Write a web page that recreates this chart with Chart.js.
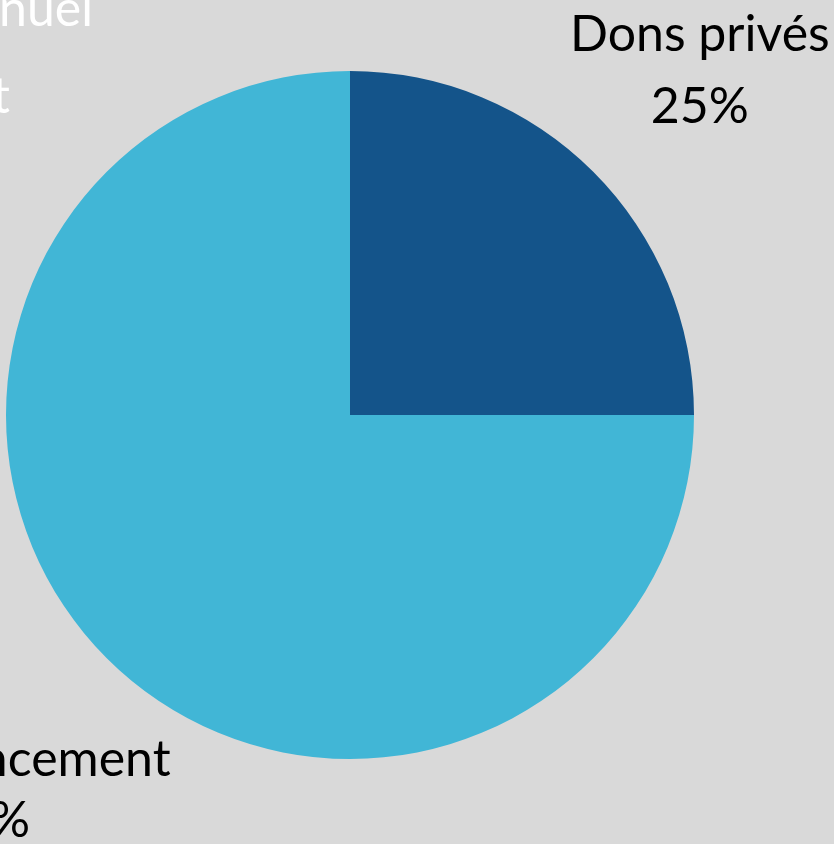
<!DOCTYPE html>
<html>
<head>
<meta charset="utf-8">
<script src="https://cdn.jsdelivr.net/npm/chart.js@4.4.1/dist/chart.umd.min.js"></script>
<style>
  html, body { margin: 0; padding: 0; background: #d9d9d9; }
  #wrap { width: 834px; height: 844px; position: relative; overflow: hidden; }
</style>
</head>
<body>
<div id="wrap"><canvas id="pie"></canvas></div>
<script>
// Data
const categories = ['Dons privés', 'Autofinancement'];
const shares = [25, 75];
const sliceColors = ['#14548a', '#41b6d6'];
const titleLines = ['Budget annuel', 'du projet'];

// draws "name / xx%" next to each slice, anchored on the slice's mid angle
const sliceLabels = {
    id: 'sliceLabels',
    afterDatasetsDraw(chart, args, opts) {
        const ctx = chart.ctx;
        const meta = chart.getDatasetMeta(0);
        ctx.save();
        ctx.font = opts.size + 'px Lato';
        ctx.fillStyle = '#000';
        ctx.textAlign = 'center';
        ctx.textBaseline = 'alphabetic';
        meta.data.forEach((arc, i) => {
            const mid = (arc.startAngle + arc.endAngle) / 2;
            const r = arc.outerRadius * opts.dist;
            const nudge = opts.nudge[i] || [0, 0];
            const gap = opts.gap[i];
            const x = arc.x + Math.cos(mid) * r + nudge[0];
            const y = arc.y + Math.sin(mid) * r + nudge[1];
            ctx.fillText(chart.data.labels[i], x, y - gap / 2);
            ctx.fillText(shares[i] + '%', x, y + gap / 2);
        });
        // title, mostly off the left edge
        ctx.fillStyle = '#ffffff';
        ctx.textAlign = 'right';
        ctx.fillText(titleLines[0], 93, 26);
        ctx.fillText(titleLines[1], 10, 113);
        ctx.restore();
    }
};

new Chart(document.getElementById('pie'), {
    type: 'pie',
    data: {
        labels: categories,
        datasets: [{
            data: shares,
            backgroundColor: sliceColors,
            borderWidth: 0,
            hoverOffset: 0
        }]
    },
    options: {
        responsive: true,
        maintainAspectRatio: false,
        animation: false,
        layout: { padding: { left: 6, right: 140, top: 71, bottom: 85 } },
        plugins: {
            legend: { display: false },
            tooltip: { enabled: false },
            sliceLabels: { size: 50, dist: 1.43, gap: [72, 61], nudge: [[2, 20], [-21, 44]] }
        }
    },
    plugins: [sliceLabels]
});
</script>
</body>
</html>
